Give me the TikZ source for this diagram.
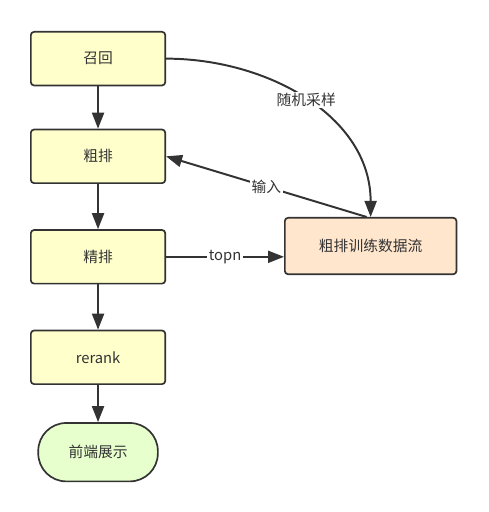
\documentclass[tikz,border=0pt]{standalone}
\usepackage{fontspec}
\usepackage{xcolor}
\usepackage{tikz}
\usetikzlibrary{arrows.meta,positioning}
\newfontfamily\cjkfont{Noto Sans CJK SC}
\definecolor{flowedge}{RGB}{51,51,51}
\definecolor{flowtxt}{RGB}{51,51,51}
\definecolor{flowstep}{RGB}{255,255,204}
\definecolor{flowdata}{RGB}{255,230,204}
\definecolor{flowend}{RGB}{230,255,204}
\tikzset{
  flowbox/.style={
    draw=flowedge, line width=1.2pt, rounded corners=0.8mm,
    align=center, inner sep=2pt, text=flowtxt,
    font=\cjkfont\fontsize{10.5}{12}\selectfont
  },
  stepbox/.style={flowbox, fill=flowstep, minimum width=33.6mm, minimum height=13.4mm},
  databox/.style={flowbox, fill=flowdata, minimum width=42.9mm, minimum height=14.1mm},
  endbox/.style={flowbox, fill=flowend, rounded corners=7mm,
    minimum width=29.9mm, minimum height=14.6mm},
  arr/.style={-{Triangle[length=4mm,width=3mm]}, draw=flowedge, line width=1.4pt},
  lbl/.style={fill=white, inner sep=1pt, text=flowtxt,
    font=\cjkfont\fontsize{10.5}{12}\selectfont}
}
\begin{document}
\begin{tikzpicture}[node distance=11.3mm]
  \useasboundingbox (0,0) rectangle (122mm,-128mm);
  % MAIN FLOW
  \node[stepbox, anchor=north west] (recall) at (7.5mm,-7.75mm) {召回};
  \node[stepbox, below=10.6mm of recall] (coarse) {粗排};
  \node[stepbox, below=of coarse] (fine) {精排};
  \node[stepbox, below=of fine] (rerank) {rerank};
  \node[endbox, below=9.3mm of rerank] (show) {前端展示};
  % TRAINING DATA
  \node[databox, anchor=north west] (data) at (71mm,-54.25mm) {粗排训练数据流};
  \draw[arr] (recall) -- (coarse);
  \draw[arr] (coarse) -- (fine);
  \draw[arr] (fine) -- (rerank);
  \draw[arr] (rerank) -- (show);
  \draw[arr] (recall.east) to[out=0, in=90]
    node[lbl, pos=0.5] {随机采样} (data.north);
  \draw[arr] ([xshift=-1mm]data.north) --
    node[lbl, pos=0.5] {输入} (coarse.east);
  \draw[arr] (fine.east) -- node[lbl, pos=0.5] {topn} (fine.east -| data.west);
\end{tikzpicture}
\end{document}
